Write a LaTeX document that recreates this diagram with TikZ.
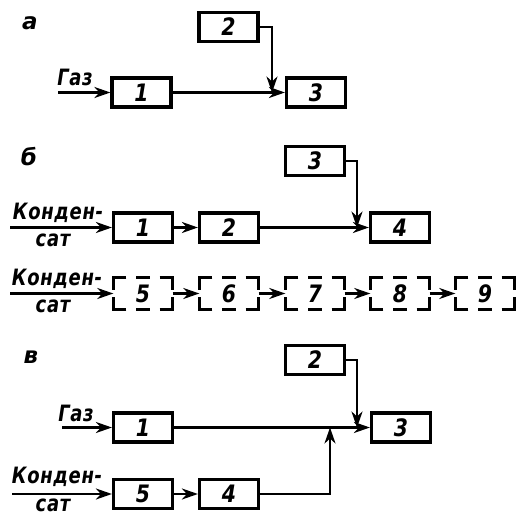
\documentclass[tikz,border=0pt]{standalone}
\usepackage{fontspec}
\setmainfont{DejaVu Sans}
\newfontfamily\lblfont[LetterSpace=3,FakeStretch=0.8]{DejaVu Sans}
\newfontfamily\digfont[FakeStretch=0.85]{DejaVu Sans}
\usetikzlibrary{arrows.meta}
\tikzset{
  blk/.style={draw, line width=3.2pt, minimum width=59pt, minimum height=29pt, inner sep=0pt, font=\fontsize{24}{24}\selectfont\digfont\itshape\bfseries},
  dblk/.style={minimum width=59pt, minimum height=31pt, inner sep=0pt, font=\fontsize{24}{24}\selectfont\digfont\itshape\bfseries},
  conn/.style={line width=2.4pt, -{Stealth[length=16pt,width=11pt,inset=5pt]}},
  lbl/.style={font=\fontsize{22.5}{22.5}\selectfont\lblfont\itshape\bfseries, inner sep=0pt},
  sec/.style={font=\fontsize{23}{23}\selectfont\itshape\bfseries, inner sep=0pt},
  dashedge/.style={line width=3.2pt}
}
\newcommand{\dbox}[1]{%
  \draw[dashedge] ([xshift=13pt]#1.north west) -- (#1.north west) -- ([yshift=-12pt]#1.north west);
  \draw[dashedge] ([xshift=-13pt]#1.north east) -- (#1.north east) -- ([yshift=-12pt]#1.north east);
  \draw[dashedge] ([xshift=13pt]#1.south west) -- (#1.south west) -- ([yshift=12pt]#1.south west);
  \draw[dashedge] ([xshift=-13pt]#1.south east) -- (#1.south east) -- ([yshift=12pt]#1.south east);
  \draw[dashedge] ([xshift=-7pt]#1.north) -- ([xshift=7pt]#1.north);
  \draw[dashedge] ([xshift=-7pt]#1.south) -- ([xshift=7pt]#1.south);
}
\begin{document}
\begin{tikzpicture}[x=1pt,y=-1pt]
\useasboundingbox (0,0) rectangle (516,518);
% --- section a
\node[sec] (la) at (30,23) {а};
\node[blk] (a2) at (228.5,27) {2};
\node[blk] (a1) at (141.5,92.5) {1};
\node[blk] (a3) at (316,92.5) {3};
\node[lbl] (ag) at (75,77) {Газ};
\coordinate (ain) at (58,92.5);
\coordinate (aj) at (272,92.5);
\draw[conn] (ain) -- (a1);
\draw[conn] (a1) -- (a3);
\draw[conn] (a2.east) -| (aj);
% --- section b
\node[sec] (lb) at (29,157) {б};
\node[blk] (b3) at (315,161) {3};
\node[blk] (b1) at (143,227.5) {1};
\node[blk] (b2) at (229,227.5) {2};
\node[blk] (b4) at (400,227.5) {4};
\node[lbl] (bk) at (58,213) {Конден-};
\node[lbl] (bs) at (53,240) {сат};
\coordinate (bin) at (10,227.5);
\coordinate (bj) at (357,227.5);
\draw[conn] (bin) -- (b1);
\draw[conn] (b1) -- (b2);
\draw[conn] (b2) -- (b4);
\draw[conn] (b3.east) -| (bj);
% --- dashed row
\node[dblk] (d5) at (143,293.5) {5};
\node[dblk] (d6) at (229,293.5) {6};
\node[dblk] (d7) at (315,293.5) {7};
\node[dblk] (d8) at (400,293.5) {8};
\node[dblk] (d9) at (485,293.5) {9};
\dbox{d5}\dbox{d6}\dbox{d7}\dbox{d8}\dbox{d9}
\node[lbl] (dk) at (57,279) {Конден-};
\node[lbl] (ds) at (53,306) {сат};
\coordinate (din) at (10,293.5);
\draw[conn] (din) -- (d5);
\draw[conn] (d5) -- (d6);
\draw[conn] (d6) -- (d7);
\draw[conn] (d7) -- (d8);
\draw[conn] (d8) -- (d9);
% --- section c
\node[sec] (lc) at (31,357) {в};
\node[blk] (c2) at (315,360) {2};
\node[blk] (c1) at (143,427.5) {1};
\node[blk] (c3) at (401,427.5) {3};
\node[blk] (c5) at (143,494) {5};
\node[blk] (c4) at (229,494) {4};
\node[lbl] (cg) at (76,413) {Газ};
\node[lbl] (ck) at (57,477) {Конден-};
\node[lbl] (cs) at (53,505) {сат};
\coordinate (cin1) at (62,427.5);
\coordinate (cin2) at (12,494);
\coordinate (cj1) at (357,427.5);
\coordinate (cj2) at (330,427.5);
\draw[conn] (cin1) -- (c1);
\draw[conn] (c1) -- (c3);
\draw[conn] (c2.east) -| (cj1);
\draw[conn] (cin2) -- (c5);
\draw[conn] (c5) -- (c4);
\draw[conn] (c4.east) -| (cj2);
\end{tikzpicture}
\end{document}
